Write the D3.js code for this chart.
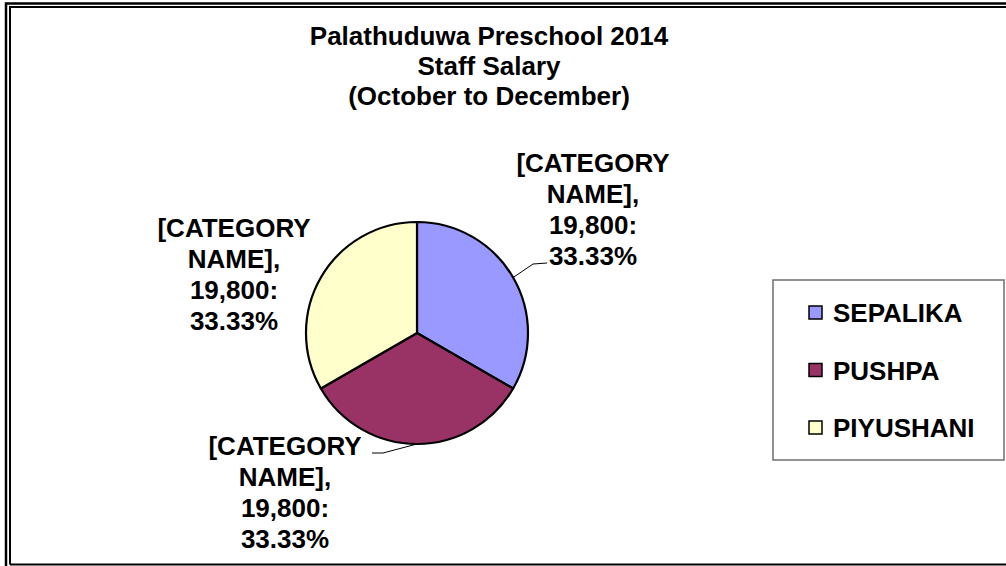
<!DOCTYPE html>
<html>
<head>
<meta charset="utf-8">
<script src="https://cdn.jsdelivr.net/npm/d3@7"></script>
<style>
  body { margin: 0; background: #fff; }
  svg { display: block; font-family: "Liberation Sans", Arial, sans-serif; }
</style>
</head>
<body>
<div id="chart"></div>
<script>
// chart data
const categories = ["SEPALIKA", "PUSHPA", "PIYUSHANI"];
const salaries = [19800, 19800, 19800];
const sliceColors = ["#9999FF", "#993366", "#FFFFCC"];
const titleLines = ["Palathuduwa Preschool 2014", "Staff Salary", "(October to December)"];

const width = 1006,
    height = 566;

// pie layout
const cx = 417,
    cy = 333,
    radius = 111;

// where each data label block sits (centre of block, relative to pie centre)
// and whether a leader line is drawn
const labelLayout = [
    {dx: 176, dy: -124, leader: true, elbow: [116, -69], end: [130, -70]},
    {dx: -132, dy: 159, leader: true, elbow: [-34, 120], end: [-45, 120]},
    {dx: -183, dy: -59, leader: false}
];

const data = categories.map((c, i) => ({name: c, value: salaries[i], color: sliceColors[i]}));
const total = d3.sum(salaries);
const fmtVal = d3.format(",");
const fmtPct = d3.format(".2%");

const svg = d3.select("#chart").append("svg")
    .attr("width", width)
    .attr("height", height);

svg.append("rect").attr("width", width).attr("height", height).attr("fill", "#fff");

// double frame (outer + inner)
svg.append("path")
    .attr("d", "M6," + height + " V3.5 H" + width)
    .attr("fill", "none").attr("stroke", "#000").attr("stroke-width", 2.5);
svg.append("path")
    .attr("d", "M10," + (height - 1.5) + " V7 H" + width + " M10," + (height - 1.5) + " H" + width)
    .attr("fill", "none").attr("stroke", "#000").attr("stroke-width", 2);

// title
svg.append("text")
    .attr("text-anchor", "middle")
    .style("font-size", "26px")
    .style("font-weight", "bold")
    .selectAll("tspan")
    .data(titleLines)
    .join("tspan")
    .attr("x", 489)
    .attr("y", (d, i) => 45 + i * 30)
    .text(d => d);

// pie
const pie = d3.pie().sort(null).value(d => d.value);
const arc = d3.arc().innerRadius(0).outerRadius(radius);
const arcs = pie(data);

const pieG = svg.append("g").attr("transform", "translate(" + cx + "," + cy + ")");

pieG.selectAll("path.slice")
    .data(arcs)
    .join("path")
    .attr("class", "slice")
    .attr("d", arc)
    .attr("fill", d => d.data.color)
    .attr("stroke", "#000")
    .attr("stroke-width", 2.2)
    .attr("stroke-linejoin", "round");

// leader lines
arcs.forEach((a, i) => {
    const lay = labelLayout[i];
    if (!lay.leader) return;
    const mid = (a.startAngle + a.endAngle) / 2;
    const p0 = [Math.sin(mid) * radius, -Math.cos(mid) * radius];
    pieG.append("polyline")
        .attr("points", [p0, lay.elbow, lay.end].map(p => p.join(",")).join(" "))
        .attr("fill", "none")
        .attr("stroke", "#000")
        .attr("stroke-width", 1);
});

// data labels
const lineH = 31;
arcs.forEach((a, i) => {
    const lay = labelLayout[i];
    const lines = ["[CATEGORY", "NAME],", fmtVal(a.data.value) + ":", fmtPct(a.data.value / total)];
    const t = pieG.append("text")
        .attr("text-anchor", "middle")
        .style("font-size", "26px")
        .style("font-weight", "bold");
    t.selectAll("tspan")
        .data(lines)
        .join("tspan")
        .attr("x", lay.dx)
        .attr("y", (d, j) => lay.dy + (j - 1.5) * lineH + 9)
        .text(d => d);
});

// legend
const legend = svg.append("g").attr("transform", "translate(773,280)");
legend.append("rect")
    .attr("width", 231)
    .attr("height", 180)
    .attr("fill", "#fff")
    .attr("stroke", "#6e6e6e")
    .attr("stroke-width", 1.5);

const items = legend.selectAll("g.item")
    .data(data)
    .join("g")
    .attr("class", "item")
    .attr("transform", (d, i) => "translate(36," + (33 + i * 57.5) + ")");

items.append("rect")
    .attr("x", 0).attr("y", -7)
    .attr("width", 13).attr("height", 13)
    .attr("fill", d => d.color)
    .attr("stroke", "#000")
    .attr("stroke-width", 1.5);

items.append("text")
    .attr("x", 24)
    .attr("y", 9)
    .style("font-size", "26px")
    .style("font-weight", "bold")
    .text(d => d.name);
</script>
</body>
</html>
